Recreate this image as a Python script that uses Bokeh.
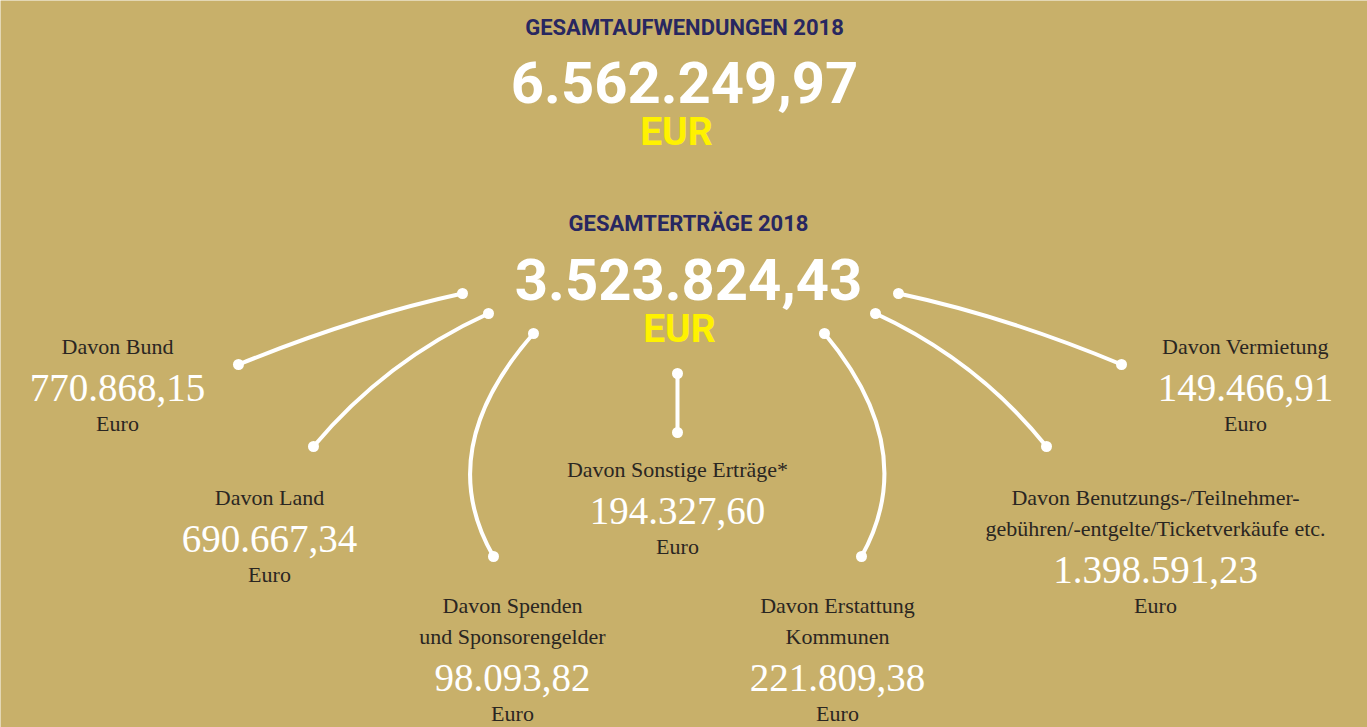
from bokeh.plotting import figure
from bokeh.models import Range1d
from bokeh.core.properties import value
from bokeh.embed import file_html
from bokeh.resources import INLINE

# ---------------- data ----------------
expense_title = "GESAMTAUFWENDUNGEN 2018"
expense_total = 6562249.97
income_title = "GESAMTERTRÄGE 2018"
income_total = 3523824.43
currency_big = "EUR"
currency_small = "Euro"
categories = [
    ["Davon Bund"],
    ["Davon Land"],
    ["Davon Spenden", "und Sponsorengelder"],
    ["Davon Sonstige Erträge*"],
    ["Davon Erstattung", "Kommunen"],
    ["Davon Benutzungs-/Teilnehmer-", "gebühren/-entgelte/Ticketverkäufe etc."],
    ["Davon Vermietung"],
]
values = [770868.15, 690667.34, 98093.82, 194327.60, 221809.38, 1398591.23, 149466.91]

# ---------------- layout (page pixels, text baselines) ----------------
head_x = [684, 688]
head_title_y = [35, 231]
head_num_y = [103, 300]
head_cur_x = [676, 679]
head_cur_y = [146, 343]

label_x = [117, 269, 512, 677, 837, 1155, 1245]
label_y = [354, 505, 613, 477, 613, 505, 354]
line_gap = 31
num_gap = 48
euro_gap = 29
con_x0 = [462, 488, 533, 677, 824, 875, 898]
con_y0 = [293, 313, 333, 373, 333, 313, 293]
con_x1 = [238, 313, 493, 677, 861, 1046, 1121]
con_y1 = [364, 446, 556, 432, 556, 446, 364]
con_cx = [356, 385, 431, 677, 921, 977, 1006]
con_cy = [316, 360, 449, 402, 449, 360, 316]

BG = "#c8b06a"
NAVY = "#282760"
YELLOW = "#fff200"
DARK = "#2a2622"

W, H = 1367, 727
SHIFT = 0.36  # svg text sits lower than its nominal baseline by ~this * font size


def de(v):
    return f"{v:,.2f}".replace(",", "X").replace(".", ",").replace("X", ".")


def ty(ys, size):
    return [y - SHIFT * size for y in ys]


p = figure(width=W, height=H, output_backend="svg", toolbar_location=None,
           x_range=Range1d(0, W), y_range=Range1d(H, 0),
           x_axis_location=None, y_axis_location=None, min_border=0)
p.grid.visible = False
p.outline_line_color = None
p.background_fill_color = BG
p.border_fill_color = BG

SANS = value("Roboto")
SERIF = value("Liberation Serif")

# headline blocks
p.text(x=head_x, y=ty(head_title_y, 22), text=[expense_title, income_title],
       text_font=SANS, text_font_style="bold", text_font_size="22px",
       text_color=NAVY, text_align="center", text_baseline="alphabetic")
p.text(x=head_x, y=ty(head_num_y, 58), text=[de(expense_total), de(income_total)],
       text_font=SANS, text_font_style="bold", text_font_size="58px",
       text_color="white", text_align="center", text_baseline="alphabetic")
p.text(x=head_cur_x, y=ty(head_cur_y, 39), text=[currency_big, currency_big],
       text_font=SANS, text_font_style="bold", text_font_size="39px",
       text_color=YELLOW, text_align="center", text_baseline="alphabetic")

# connectors
p.quadratic(x0=con_x0, y0=con_y0, x1=con_x1, y1=con_y1, cx=con_cx, cy=con_cy,
            line_color="white", line_width=4, line_cap="round")
p.scatter(x=con_x0 + con_x1, y=con_y0 + con_y1, size=11,
          fill_color="white", line_color=None)

# category labels
lx, ly, lt = [], [], []
nx, ny, nt = [], [], []
ex, ey = [], []
for cat, v, x, y in zip(categories, values, label_x, label_y):
    for i, line in enumerate(cat):
        lx.append(x); ly.append(y + i * line_gap); lt.append(line)
    last = y + (len(cat) - 1) * line_gap
    nx.append(x); ny.append(last + num_gap); nt.append(de(v))
    ex.append(x); ey.append(min(last + num_gap + euro_gap, H - 6))

p.text(x=lx, y=ty(ly, 22), text=lt, text_font=SERIF, text_font_size="22px",
       text_color=DARK, text_align="center", text_baseline="alphabetic")
p.text(x=nx, y=ty(ny, 39), text=nt, text_font=SERIF, text_font_size="39px",
       text_color="white", text_align="center", text_baseline="alphabetic")
p.text(x=ex, y=ty(ey, 22), text=[currency_small] * len(ex), text_font=SERIF,
       text_font_size="22px", text_color=DARK, text_align="center",
       text_baseline="alphabetic")

html = file_html(p, INLINE)
html = html.replace("<body>", f'<body style="margin:0;overflow:hidden;background-color:{BG};">', 1)
open("out.html", "w").write(html)
